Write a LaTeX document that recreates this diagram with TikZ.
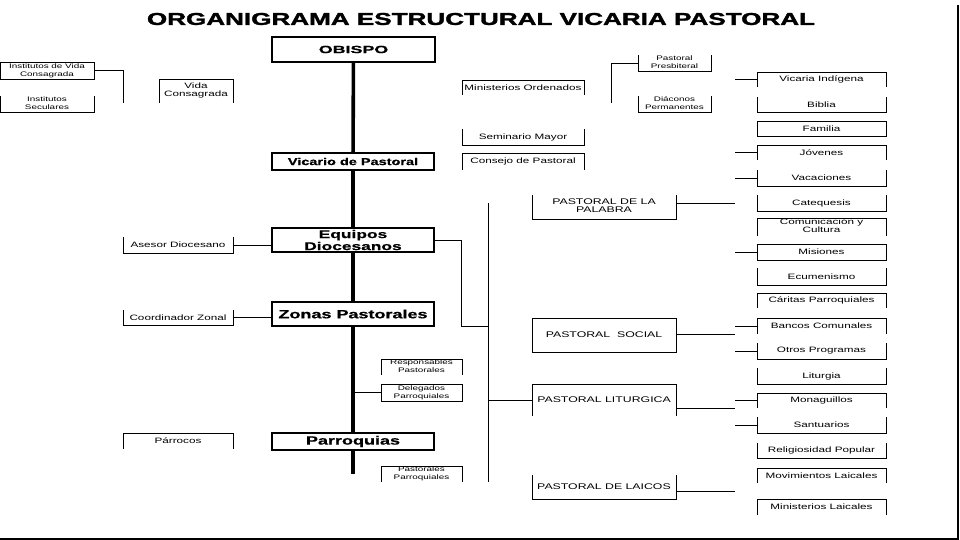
\documentclass[tikz,border=0pt]{standalone}
\usepackage{fontspec}
\setmainfont{Liberation Sans}
\newfontfamily\titlefont{Liberation Sans}[BoldFeatures={FakeBold=1.5}]
\newfontfamily\heavyfont{Liberation Sans}[BoldFeatures={FakeBold=0.6}]
\usepackage{graphicx}
\newcommand\xs[1]{\scalebox{1.5}[1]{#1}}
\newcommand\xt[2]{\scalebox{1.5}[1]{\begin{tabular}{@{}c@{}}#1\\#2\end{tabular}}}
\tikzset{
  box/.style={inner sep=0pt, outer sep=0pt, font=\fontsize{7.8}{8}\selectfont, align=center},
  tiny/.style={font=\fontsize{6.6}{8}\selectfont},
  bl/.style={line width=0.9pt},
  mainbox/.style={draw, line width=2.2pt, inner sep=0pt, outer sep=0pt, fill=white, font=\heavyfont\bfseries\fontsize{12}{12}\selectfont},
  trunk/.style={line width=3.6pt},
  conn/.style={line width=0.9pt},
  frame/.style={line width=2.5pt}
}
% \bx[opts]{mode f/t/b}{name}{x1}{y1}{x2}{y2}{text}
\newcommand\bx[8][]{%
  \node[box,#1,minimum width={(#6)-(#4)},minimum height={(#7)-(#5)}] (#3) at ({((#4)+(#6))/2},{((#5)+(#7))/2}) {#8};
  \ifx f#2\draw[bl] (#3.north west) rectangle (#3.south east);\fi
  \ifx t#2\draw[bl] (#3.north west) |- (#3.south east) -- (#3.north east);\fi
  \ifx b#2\draw[bl] (#3.south west) |- (#3.north east) -- (#3.south east);\fi
}
\begin{document}
\begin{tikzpicture}[x=1pt,y=-1pt]
\useasboundingbox (0,0) rectangle (960,540);
\fill[white] (0,0) rectangle (960,540);

% title
\node[inner sep=0pt] (title) at (481,19) {\resizebox{668pt}{12pt}{\titlefont\bfseries ORGANIGRAMA ESTRUCTURAL VICARIA PASTORAL}};

% main chain
\node[mainbox, minimum width=163, minimum height=25, font=\heavyfont\bfseries\fontsize{10.5}{11}\selectfont] (ob) at (353.5,49.5) {\scalebox{1.7}[1]{OBISPO}};
\node[mainbox, minimum width=162, minimum height=17, font=\heavyfont\bfseries\fontsize{10}{10}\selectfont] (vic) at (353,161.5) {\scalebox{1.45}[1]{Vicario de Pastoral}};
\node[mainbox, minimum width=162, minimum height=24, font=\heavyfont\bfseries\fontsize{11.2}{12}\selectfont] (eq) at (353,240) {\raisebox{-4.4pt}[12pt][12pt]{\scalebox{1.55}[1]{\begin{tabular}{@{}c@{}}Equipos\\Diocesanos\end{tabular}}}};
\node[mainbox, minimum width=162, minimum height=24] (zp) at (353,314) {\xs{Zonas Pastorales}};
\node[mainbox, minimum width=162, minimum height=17] (par) at (353,441.5) {\xs{Parroquias}};
\coordinate (trunkend) at (353,474);
\draw[trunk] (ob) -- (vic);
\draw[trunk] (vic) -- (eq);
\draw[trunk] (eq) -- (zp);
\draw[trunk] (zp) -- (par);
\draw[trunk] (par) -- (trunkend);

% left side
\bx[tiny]{f}{ivc}{0}{62}{94}{79}{\xt{Institutos de Vida}{Consagrada}}
\bx[tiny]{t}{ise}{0}{96}{94}{112}{\xt{Institutos}{Seculares}}
\coordinate (ivcend) at (123,103);
\draw[conn] (ivc.east) -| (ivcend);
\bx{b}{vc}{159}{79}{233}{103}{\xt{Vida}{Consagrada}}
\bx{t}{ase}{123}{237}{233}{253}{\xs{Asesor Diocesano}}
\draw[conn] (ase.east) -- (ase.east -| eq.west);
\bx{t}{cz}{123}{310}{233}{325}{\xs{Coordinador Zonal}}
\draw[conn] (cz.east) -- (cz.east -| zp.west);
\bx{b}{parr}{123}{433}{233}{449}{\xs{Párrocos}}

% middle top
\bx{b}{mo}{462}{80}{584}{95}{\xs{Ministerios Ordenados}}
\bx{t}{sm}{462}{129}{584}{145}{\xs{Seminario Mayor}}
\bx{b}{cp}{462}{153}{584}{170}{\xs{Consejo de Pastoral}}
\bx[tiny]{t}{pp}{638}{55}{711}{71}{\xt{Pastoral}{Presbiteral}}
\bx[tiny]{t}{dc}{638}{96}{711}{112}{\xt{Diáconos}{Permanentes}}
\coordinate (mobr) at (611,103);
\draw[conn] (mobr) |- (pp.west);

% parish helpers
\bx[tiny]{b}{rp}{381}{359}{462}{375}{\xt{Responsables}{Pastorales}}
\bx[tiny]{f}{dp}{381}{384}{462}{401}{\xt{Delegados}{Parroquiales}}
\bx[tiny]{b}{pap}{381}{466}{462}{482}{\xt{Pastorales}{Parroquiales}}
\draw[conn] (dp.west) -- (dp.west -| par.north);

% spine
\coordinate (sp1) at (488,203);
\coordinate (sp2) at (488,482);
\coordinate (spj) at (488,326);
\draw[conn] (sp1) -- (sp2);
\draw[conn] (eq.east) -- ++(27,0) |- (spj);

% pastoral boxes
\bx[font=\fontsize{8.2}{8.2}\selectfont]{t}{ppal}{532}{195}{676}{219}{\xt{PASTORAL DE LA}{PALABRA}}
\bx[font=\fontsize{8.2}{8.2}\selectfont]{f}{psoc}{532}{318}{676}{352}{\xs{PASTORAL\ \ SOCIAL}}
\bx[font=\fontsize{8.2}{8.2}\selectfont]{b}{plit}{532}{384}{676}{416}{\xs{PASTORAL LITURGICA}}
\bx[font=\fontsize{8.2}{8.2}\selectfont]{t}{plai}{532}{475}{676}{499}{\xs{PASTORAL DE LAICOS}}
\draw[conn] (plit.west) -- (plit.west -| sp1);
\coordinate (e1) at (735,203);
\coordinate (e2) at (735,334);
\coordinate (e3) at (735,408);
\coordinate (e4) at (735,491);
\draw[conn] (e1 -| ppal.east) -- (e1);
\draw[conn] (e2 -| psoc.east) -- (e2);
\draw[conn] (e3 -| plit.east) -- (e3);
\draw[conn] (e4 -| plai.east) -- (e4);

% right column
\bx{b}{vi}{757}{72}{886}{87}{\xs{Vicaria Indígena}}
\bx{t}{bib}{757}{97}{886}{112}{\xs{Biblia}}
\bx{f}{fam}{757}{121}{886}{136}{\xs{Familia}}
\bx{b}{jov}{757}{145}{886}{160}{\xs{Jóvenes}}
\bx{t}{vac}{757}{170}{886}{186}{\xs{Vacaciones}}
\bx{t}{cat}{757}{195}{886}{211}{\xs{Catequesis}}
\bx{b}{com}{757}{218}{886}{236}{\xt{Comunicación y}{Cultura}}
\bx{f}{mis}{757}{244}{886}{260}{\xs{Misiones}}
\bx{t}{ecu}{757}{268}{886}{285}{\xs{Ecumenismo}}
\bx{b}{car}{757}{293}{886}{308}{\xs{Cáritas Parroquiales}}
\bx{b}{ban}{757}{318}{886}{334}{\xs{Bancos Comunales}}
\bx{t}{otr}{757}{343}{886}{359}{\xs{Otros Programas}}
\bx{t}{lit}{757}{368}{886}{384}{\xs{Liturgia}}
\bx{b}{mon}{757}{393}{886}{408}{\xs{Monaguillos}}
\bx{t}{san}{757}{417}{886}{433}{\xs{Santuarios}}
\bx{t}{rel}{757}{443}{886}{458}{\xs{Religiosidad Popular}}
\bx{b}{mov}{757}{468}{886}{483}{\xs{Movimientos Laicales}}
\bx{b}{mil}{757}{499}{886}{515}{\xs{Ministerios Laicales}}
\foreach \n in {vi,jov,vac,mis,ban,otr,mon,san}{\draw[conn] (\n.west) -- ++(-22,0);}

% slide frame
\coordinate (frTR) at (958,5);
\coordinate (frBR) at (958,539);
\coordinate (frBL) at (0,539);
\draw[frame] (frTR) -- (frBR) -- (frBL);
\end{tikzpicture}
\end{document}
